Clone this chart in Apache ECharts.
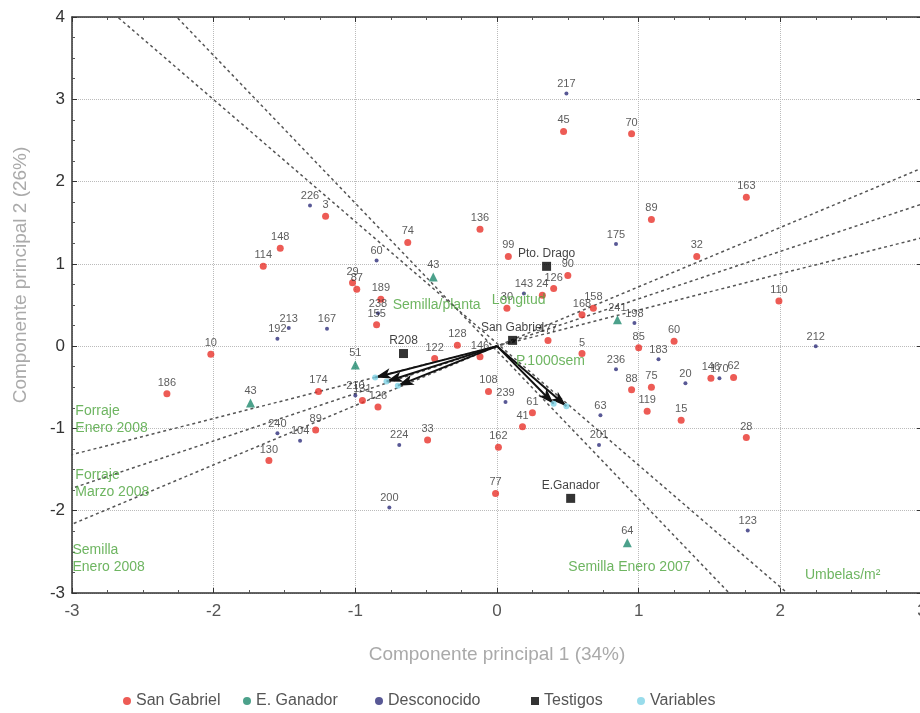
<!DOCTYPE html>
<html><head><meta charset="utf-8">
<script src="https://cdn.jsdelivr.net/npm/echarts@6/dist/echarts.min.js"></script>
<style>html,body{margin:0;padding:0;background:#fff}#c{width:920px;height:713px}</style>
</head><body><div id="c"></div>
<script>
// ---- data: [label, PC1, PC2] ----
const sanGabriel = [
 ['3',-1.21,1.58],['148',-1.53,1.19],['114',-1.65,0.97],['74',-0.63,1.26],['136',-0.12,1.42],
 ['45',0.47,2.61],['70',0.95,2.58],['163',1.76,1.81],['89',1.09,1.54],['32',1.41,1.09],
 ['110',1.99,0.55],['29',-1.02,0.77],['87',-0.99,0.69],['189',-0.82,0.57],['155',-0.85,0.26],
 ['10',-2.02,-0.10],['174',-1.26,-0.55],['186',-2.33,-0.58],['89',-1.28,-1.02],['130',-1.61,-1.39],
 ['131',-0.95,-0.66],['126',-0.84,-0.74],['33',-0.49,-1.14],['128',-0.28,0.01],['122',-0.44,-0.15],
 ['146',-0.12,-0.13],['108',-0.06,-0.55],['162',0.01,-1.23],['77',-0.01,-1.79],['41',0.18,-0.98],
 ['61',0.25,-0.81],['28',1.76,-1.11],['15',1.30,-0.90],['119',1.06,-0.79],['88',0.95,-0.53],
 ['75',1.09,-0.50],['146',1.51,-0.39],['62',1.67,-0.38],['85',1.00,-0.02],['60',1.25,0.06],
 ['5',0.60,-0.09],['168',0.60,0.38],['158',0.68,0.46],['90',0.50,0.86],['99',0.08,1.09],
 ['126',0.40,0.70],['24',0.32,0.62],['30',0.07,0.46],['177',0.36,0.07]
];
const eGanador = [
 ['43',-0.45,0.84],['51',-1.00,-0.23],['43',-1.74,-0.69],['64',0.92,-2.39],['241',0.85,0.32]
];
const desconocido = [
 ['217',0.49,3.07],['175',0.84,1.24],['183',1.14,-0.16],['170',1.57,-0.39],['226',-1.32,1.71],
 ['60',-0.85,1.04],['212',2.25,0.00],['192',-1.55,0.09],['213',-1.47,0.22],['167',-1.20,0.21],
 ['240',-1.55,-1.06],['104',-1.39,-1.15],['224',-0.69,-1.20],['200',-0.76,-1.96],['239',0.06,-0.68],
 ['63',0.73,-0.84],['201',0.72,-1.20],['123',1.77,-2.24],['20',1.33,-0.45],['236',0.84,-0.28],
 ['143',0.19,0.64],['198',0.97,0.28],['210',-1.00,-0.60],['238',-0.84,0.40]
];
const testigos = [
 ['Pto. Drago',0.35,0.97],['San Gabriel',0.11,0.07],['R208',-0.66,-0.09],['E.Ganador',0.52,-1.85]
];
// variable vectors (arrow ends)
const variables = [
 ['Forraje Enero 2008',-0.86,-0.38],['Forraje Marzo 2008',-0.78,-0.43],['Semilla Enero 2008',-0.70,-0.48],
 ['Umbelas/m²',0.49,-0.73],['Semilla Enero 2007',0.40,-0.70]
];
// variable axis lines (dotted), endpoints in data units
const axisLines = [
 [[-3.3,-1.45],[3.3,1.45]],
 [[-3.3,-1.90],[3.3,1.90]],
 [[-3.3,-2.38],[3.3,2.38]],
 [[-2.8,4.18],[2.15,-3.15]],
 [[-2.4,4.25],[1.8,-3.29]]
];
// variable name labels
const varLabels = [
 ['Forraje\nEnero 2008',-2.98,-0.89],['Forraje\nMarzo 2008',-2.98,-1.67],['Semilla\nEnero 2008',-3.0,-2.58],
 ['Semilla Enero 2007',0.50,-2.69],['Umbelas/m²',2.17,-2.78],
 ['Semilla/planta',-0.74,0.50],['Longitud',-0.04,0.56],['P.1000sem',0.13,-0.18]
];
const xTicks = {min:-3,max:3,interval:1};
const yTicks = {min:-3,max:4,interval:1};

const FONT = "'Liberation Sans',Arial,sans-serif";
const toItems = arr => arr.map(d => ({name:d[0], value:[d[1],d[2]]}));
const ptLabel = {show:true, position:'top', distance:2, fontSize:11, color:'#333', formatter:'{b}', fontFamily:FONT};

const chart = echarts.init(document.getElementById('c'));
const series = [];
axisLines.forEach((l,i) => series.push({
  type:'line', name:'axis'+i, data:l, symbol:'none', silent:true, z:1,
  lineStyle:{color:'#555', width:1.5, type:[3,3]}
}));
series.push({type:'scatter', name:'San Gabriel', data:toItems(sanGabriel), symbol:'circle', symbolSize:7,
  itemStyle:{color:'#e8322b'}, label:ptLabel, z:3});
series.push({type:'scatter', name:'E. Ganador', data:toItems(eGanador), symbol:'triangle', symbolSize:9,
  itemStyle:{color:'#1f8a6e'}, label:ptLabel, z:3});
series.push({type:'scatter', name:'Desconocido', data:toItems(desconocido), symbol:'circle', symbolSize:4,
  itemStyle:{color:'#2e2e7a'}, label:ptLabel, z:3});
series.push({type:'scatter', name:'Testigos', data:toItems(testigos), symbol:'rect', symbolSize:9,
  itemStyle:{color:'#000'}, label:Object.assign({}, ptLabel, {fontSize:12, color:'#111'}), z:4});
series.push({type:'scatter', name:'Variables', data:toItems(variables), symbol:'circle', symbolSize:6,
  itemStyle:{color:'#7fd3e6'}, z:5,
  markLine:{silent:true, symbol:['none','arrow'], symbolSize:[8,16], label:{show:false},
    lineStyle:{color:'#111', type:'solid', width:2},
    data: variables.map(v => [{coord:[0,0]},{coord:[v[1],v[2]]}])}
});
series.push({type:'scatter', name:'varText', data:toItems(varLabels), symbolSize:1, itemStyle:{color:'rgba(0,0,0,0)'}, z:6,
  label:{show:true, position:'right', distance:0, fontSize:14, color:'#4aa23a', formatter:'{b}', lineHeight:17,
    fontFamily:FONT}});

const split = {show:true, lineStyle:{color:'#bbb', type:'dotted', width:1}};
const legendBase = {top:688, itemWidth:8, itemHeight:8, itemGap:0,
  textStyle:{fontSize:16, color:'#555', fontFamily:FONT}};
chart.setOption({
  backgroundColor:'#fff',
  animation:false,
  grid:{left:72, top:17, width:850, height:576, containLabel:false, outerBoundsMode:'none'},
  xAxis:[
    Object.assign({type:'value', position:'bottom', name:'Componente principal 1 (34%)', nameLocation:'middle', nameGap:52,
      nameTextStyle:{color:'#aaa', fontSize:19, fontFamily:FONT},
      axisLine:{show:true, onZero:false, lineStyle:{color:'#333', width:1.5}},
      axisTick:{show:true, inside:true, length:5, lineStyle:{color:'#333'}},
      minorTick:{show:true, splitNumber:4, length:3, lineStyle:{color:'#555'}},
      splitLine:split,
      axisLabel:{fontSize:17, color:'#555', margin:10, fontFamily:FONT}}, xTicks),
    Object.assign({type:'value', position:'top',
      axisLine:{show:true, onZero:false, lineStyle:{color:'#333', width:1.5}},
      axisTick:{show:true, inside:true, length:5, lineStyle:{color:'#333'}},
      minorTick:{show:true, splitNumber:4, length:3, lineStyle:{color:'#555'}},
      splitLine:{show:false}, axisLabel:{show:false}}, xTicks)
  ],
  yAxis:[
    Object.assign({type:'value', position:'left', name:'Componente principal 2 (26%)', nameLocation:'middle', nameGap:42,
      nameTextStyle:{color:'#aaa', fontSize:19, fontFamily:FONT, padding:[0,0,0,60]},
      axisLine:{show:true, onZero:false, lineStyle:{color:'#333', width:1.5}},
      axisTick:{show:true, inside:true, length:5, lineStyle:{color:'#333'}},
      minorTick:{show:true, splitNumber:4, length:3, lineStyle:{color:'#555'}},
      splitLine:split,
      axisLabel:{fontSize:17, color:'#333', margin:7, fontFamily:FONT}}, yTicks),
    Object.assign({type:'value', position:'right',
      axisLine:{show:true, onZero:false, lineStyle:{color:'#333', width:1.5}},
      axisTick:{show:true, inside:true, length:5}, splitLine:{show:false}, axisLabel:{show:false}}, yTicks)
  ],
  legend:[
    Object.assign({data:[{name:'San Gabriel', icon:'circle'}], left:118}, legendBase),
    Object.assign({data:[{name:'E. Ganador', icon:'circle'}], left:238}, legendBase),
    Object.assign({data:[{name:'Desconocido', icon:'circle'}], left:370}, legendBase),
    Object.assign({data:[{name:'Testigos', icon:'rect'}], left:526}, legendBase),
    Object.assign({data:[{name:'Variables', icon:'circle'}], left:632}, legendBase)
  ],
  series:series
});
</script></body></html>
